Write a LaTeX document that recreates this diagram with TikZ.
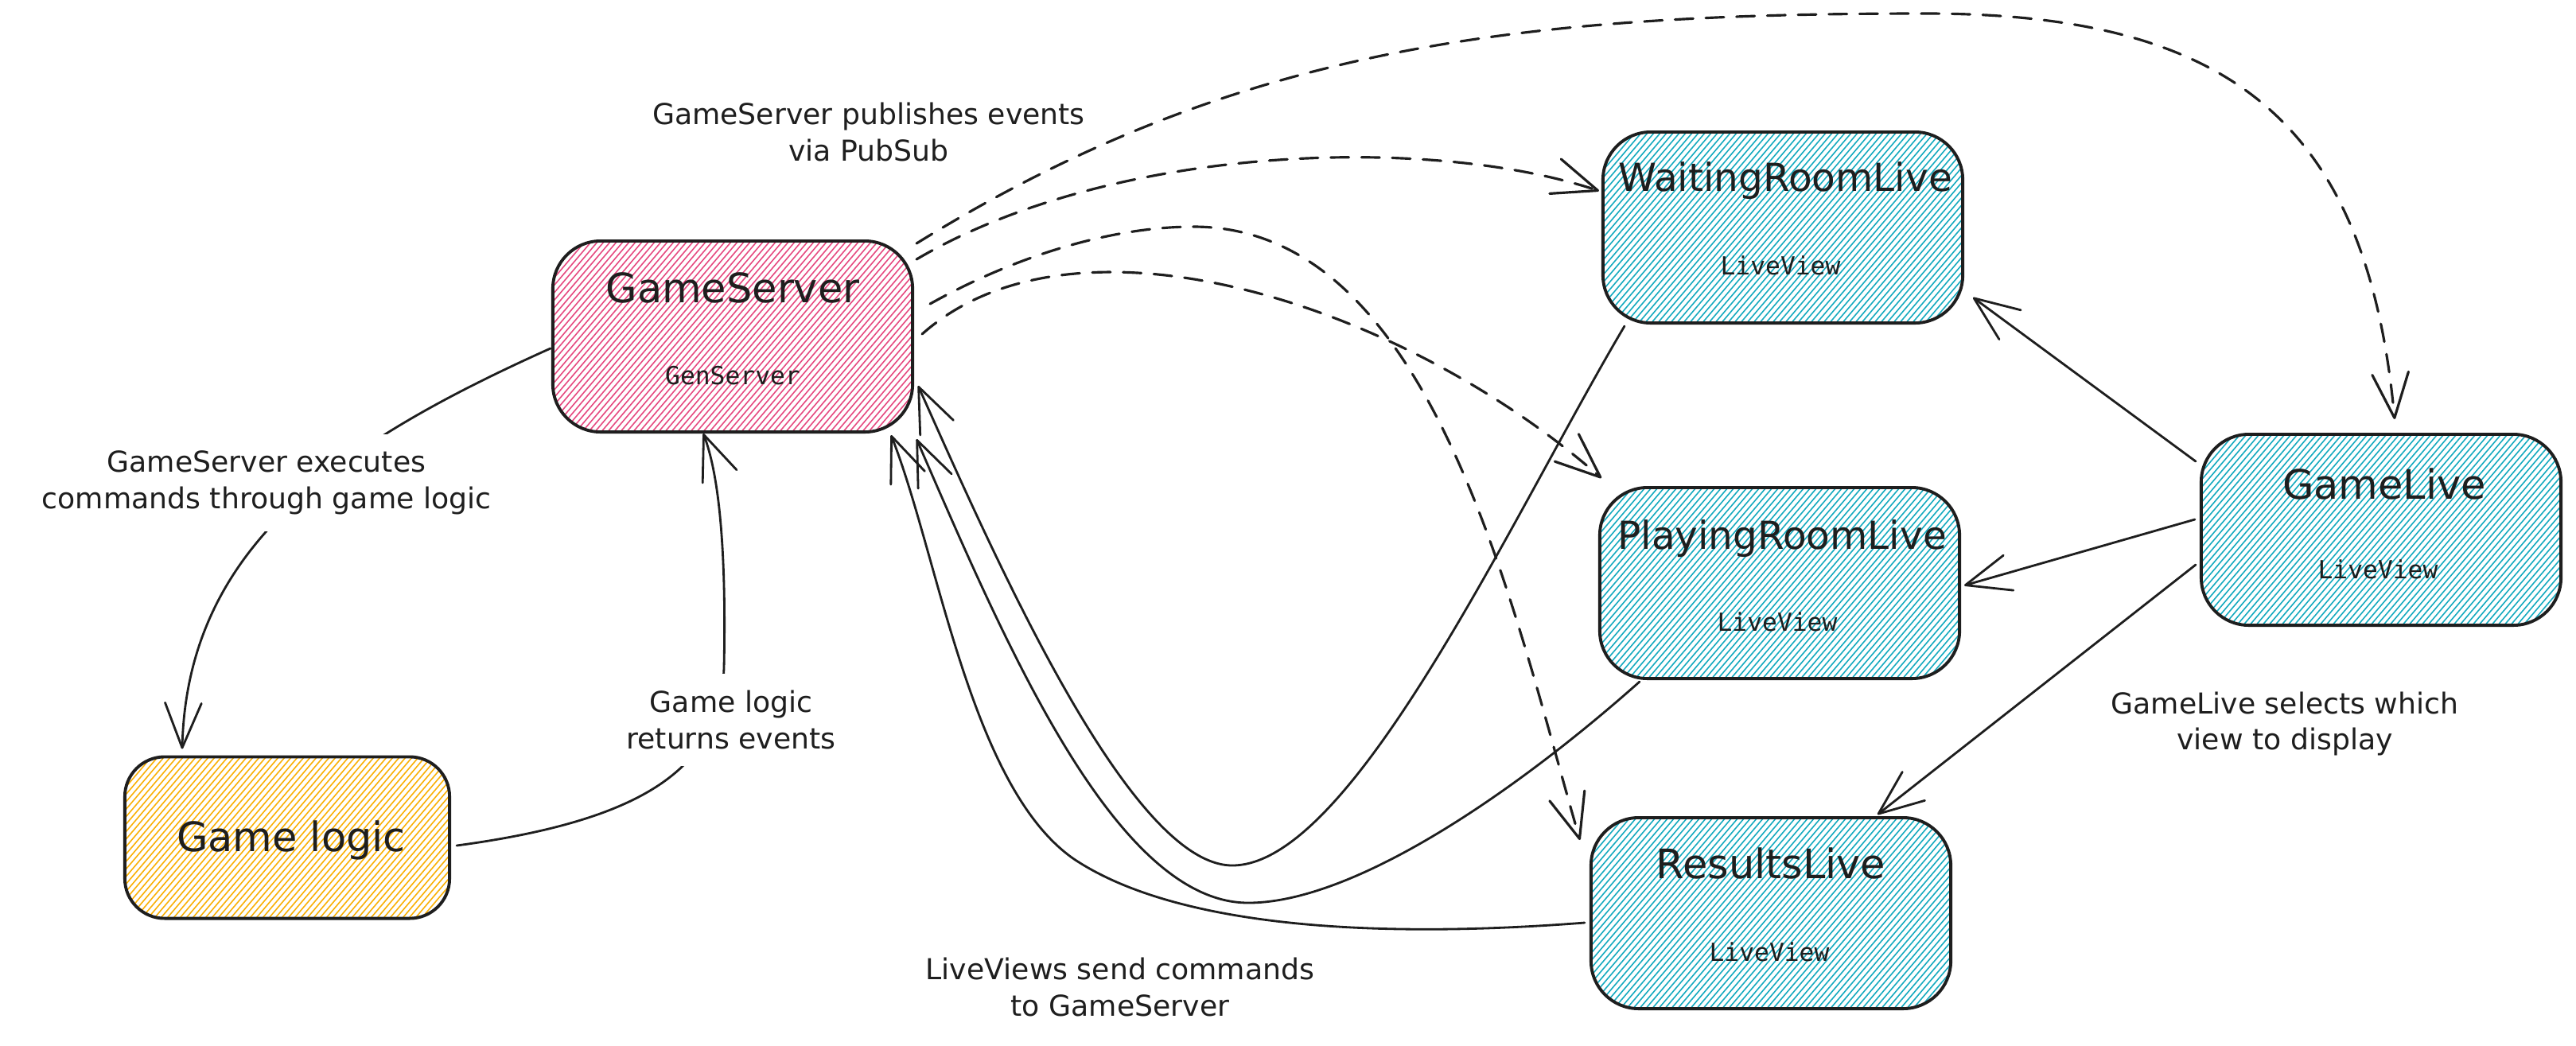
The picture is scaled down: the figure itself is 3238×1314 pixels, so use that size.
\documentclass[tikz,border=0pt]{standalone}
\usepackage{fontspec}
\setmainfont{DejaVu Sans}
\newfontfamily\monofont{DejaVu Sans Mono}
\usetikzlibrary{arrows.meta,calc}
\definecolor{pinkh}{HTML}{E64980}
\definecolor{cyanh}{HTML}{15AABF}
\definecolor{yellowh}{HTML}{FAB005}
\definecolor{ink}{HTML}{1E1E1E}
\tikzset{
  hatchfill/.style={path picture={
      \foreach \k in {-35,...,64}{
        \draw[#1, line width=0.45pt]
          ($(path picture bounding box.south west)+(\k*8,15)$) -- ++(240,-282);
      }}},
  card/.style={draw=ink, line width=1.1pt, rounded corners=0.6cm,
      minimum width=4.52cm, minimum height=2.4cm, inner sep=0pt, hatchfill=#1},
  ttl/.style={anchor=base, text=ink, font=\fontsize{14.5}{17}\selectfont, inner sep=0pt},
  subt/.style={anchor=base, text=ink, font=\monofont\fontsize{8.9}{10}\selectfont, inner sep=0pt},
  lbl/.style={align=center, text=ink, font=\fontsize{10.3}{13}\selectfont, inner sep=6pt},
  conn/.style={draw=ink, line width=0.8pt, line cap=round,
      -{Straight Barb[length=16pt,width=13pt,round]}},
  pub/.style={conn, line width=0.9pt, dash pattern=on 6.5pt off 4.5pt},
}
\begin{document}
\begin{tikzpicture}[x=0.01cm, y=-0.01cm]
\useasboundingbox (0,0) rectangle (3238,1314);
\fill[white] (0,0) rectangle (3238,1314);

% boxes
\node[card=pinkh] (gs) at (921,423) {};
\node[card=cyanh] (wr) at (2241,286) {};
\node[card=cyanh] (pr) at (2237,733) {};
\node[card=cyanh] (rl) at (2226,1148) {};
\node[card=cyanh] (glv) at (2993,666) {};
\node[card=yellowh, minimum width=4.08cm, minimum height=2.03cm, rounded corners=0.5cm] (gl) at (361,1053) {};

% box texts
\node[ttl] (gs-t) at (921,380) {GameServer};
\node[subt] (gs-s) at (921,483) {GenServer};
\node[ttl, font=\fontsize{13.8}{17}\selectfont] (wr-t) at (2244,240) {WaitingRoomLive};
\node[subt] (wr-s) at (2238,345) {LiveView};
\node[ttl, font=\fontsize{13.8}{17}\selectfont] (pr-t) at (2240,690) {PlayingRoomLive};
\node[subt] (pr-s) at (2234,793) {LiveView};
\node[ttl] (rl-t) at (2226,1104) {ResultsLive};
\node[subt] (rl-s) at (2224,1208) {LiveView};
\node[ttl] (glv-t) at (2997,627) {GameLive};
\node[subt] (glv-s) at (2989,727) {LiveView};
\node[ttl] (gl-t) at (366,1070) {Game logic};

% GameServer <-> Game logic
\draw[conn] ($(gs.west)+(-1,15)$) .. controls (420,560) and (235,690) .. ($(gl.north)+(-132,-8)$);
\draw[conn] ($(gl.east)+(7,10)$) .. controls (820,1030) and (905,960) .. (910,840)
            .. controls (913,700) and (905,600) .. ($(gs.south)+(-37,0)$);

% LiveViews -> GameServer
\draw[conn] ($(wr.south west)+(29,2)$) .. controls (1900,650) and (1700,1088) .. (1549,1088)
            .. controls (1420,1088) and (1250,700) .. ($(gs.east)+(5,62)$);
\draw[conn] ($(pr.south west)+(52,2)$) .. controls (1900,1000) and (1700,1135) .. (1569,1135)
            .. controls (1400,1135) and (1260,800) .. ($(gs.south east)+(3,7)$);
\draw[conn] ($(rl.west)+(-6,12)$) .. controls (1800,1175) and (1500,1180) .. (1350,1080)
            .. controls (1220,990) and (1180,700) .. ($(gs.south east)+(-29,2)$);

% GameLive -> views
\draw[conn] ($(glv.west)+(-5,-86)$) -- ($(wr.south east)+(11,-34)$);
\draw[conn] ($(glv.west)+(-6,-13)$) -- ($(pr.east)+(4,3)$);
\draw[conn] ($(glv.west)+(-5,44)$) -- ($(rl.north)+(134,-2)$);

% PubSub events
\draw[pub] ($(gs.north east)+(3,5)$) .. controls (1550,60) and (1900,17) .. (2420,17)
           .. controls (2800,17) and (2975,150) .. ($(glv.north)+(17,-17)$);
\draw[pub] ($(gs.north east)+(3,25)$) .. controls (1400,180) and (1800,170) .. ($(wr.west)+(-3,-46)$);
\draw[pub] ($(gs.east)+(10,-3)$) .. controls (1350,250) and (1760,380) .. ($(pr.north west)+(4,-10)$);
\draw[pub] ($(gs.east)+(20,-41)$) .. controls (1280,320) and (1400,285) .. (1500,285)
           .. controls (1800,285) and (1900,760) .. ($(rl.north west)+(-12,30)$);

% labels
\node[lbl] (l-pub) at (1092,166) {GameServer publishes events\\via PubSub};
\node[lbl, fill=white] (l-exec) at (335,607) {GameServer executes\\commands through game logic};
\node[lbl, fill=white] (l-ret) at (919,905) {Game logic\\returns events};
\node[lbl] (l-cmd) at (1408,1241) {LiveViews send commands\\to GameServer};
\node[lbl] (l-sel) at (2872,910) {GameLive selects which\\view to display};
\end{tikzpicture}
\end{document}
